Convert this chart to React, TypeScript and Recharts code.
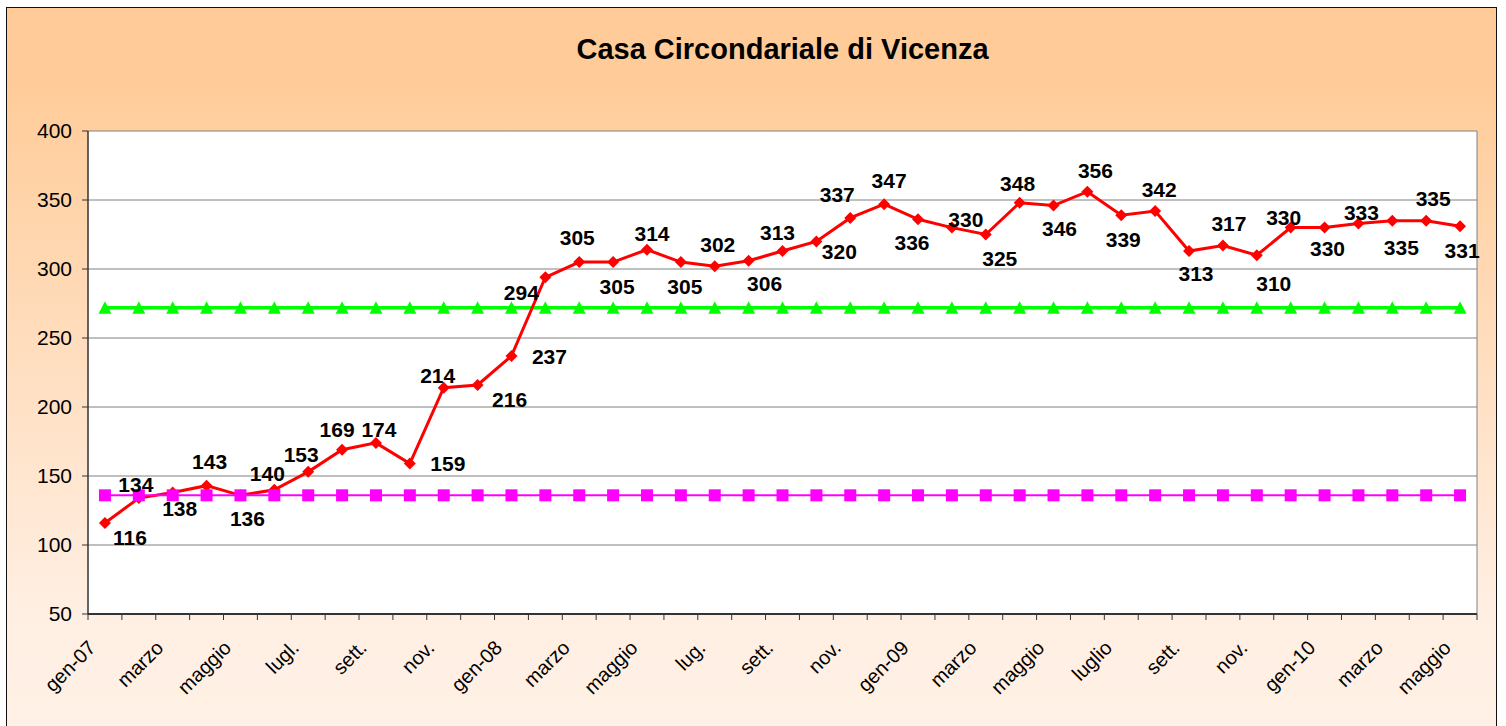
import React from 'react';
import { LineChart, Line, XAxis, YAxis, CartesianGrid, LabelList } from 'recharts';

// mesi (solo quelli pari vengono mostrati sull'asse)
const MESI = [
  'gen-07', 'feb.', 'marzo', 'apr.', 'maggio', 'giu.', 'lugl.', 'ago.', 'sett.', 'ott.', 'nov.', 'dic.',
  'gen-08', 'feb.', 'marzo', 'apr.', 'maggio', 'giu.', 'lug.', 'ago.', 'sett.', 'ott.', 'nov.', 'dic.',
  'gen-09', 'feb.', 'marzo', 'apr.', 'maggio', 'giu.', 'luglio', 'ago.', 'sett.', 'ott.', 'nov.', 'dic.',
  'gen-10', 'feb.', 'marzo', 'apr.', 'maggio'
];

const PRESENZE = [
  116, 134, 138, 143, 136, 140, 153, 169, 174, 159, 214, 216,
  237, 294, 305, 305, 314, 305, 302, 306, 313, 320, 337, 347,
  336, 330, 325, 348, 346, 356, 339, 342, 313, 317, 310, 330,
  330, 333, 335, 335, 331
];

const CAPIENZA_TOLLERABILE = [
  272, 272, 272, 272, 272, 272, 272, 272, 272, 272, 272, 272,
  272, 272, 272, 272, 272, 272, 272, 272, 272, 272, 272, 272,
  272, 272, 272, 272, 272, 272, 272, 272, 272, 272, 272, 272,
  272, 272, 272, 272, 272
];

const CAPIENZA_REGOLAMENTARE = [
  136, 136, 136, 136, 136, 136, 136, 136, 136, 136, 136, 136,
  136, 136, 136, 136, 136, 136, 136, 136, 136, 136, 136, 136,
  136, 136, 136, 136, 136, 136, 136, 136, 136, 136, 136, 136,
  136, 136, 136, 136, 136
];

const Y_TICKS = [50, 100, 150, 200, 250, 300, 350, 400];

// spostamento delle etichette rispetto al punto [dx, dy]
const LABEL_OFFSETS = [
  [25, 15], [-3, -14], [7, 16], [3, -24], [7, 23], [-7, -16], [-7, -17], [-5, -20],
  [3, -13], [38, 0], [-6, -12], [32, 15], [38, 0], [-24, 15], [-2, -25], [4, 24],
  [5, -16], [4, 24], [3, -22], [16, 23], [-5, -19], [23, 10], [-13, -24], [5, -24],
  [-6, 23], [14, -8], [14, 24], [-2, -19], [6, 23], [8, -21], [2, 24], [4, -22],
  [7, 22], [6, -22], [17, 28], [-7, -10], [3, 21], [3, -11], [9, 27], [7, -22],
  [2, 24]
];

const data = MESI.map((mese, i) => ({
  mese,
  presenze: PRESENZE[i],
  tollerabile: CAPIENZA_TOLLERABILE[i],
  regolamentare: CAPIENZA_REGOLAMENTARE[i]
}));

const W = 1506;
const H = 726;
const PLOT_LEFT = 88;
const PLOT_RIGHT = 1477;
const PLOT_TOP = 131;
const PLOT_BOTTOM = 614;
const BAND = (PLOT_RIGHT - PLOT_LEFT) / MESI.length;
const FONT = '"Liberation Sans", Arial, sans-serif';

const XTick = (props: any) => {
  const { x, y, payload, index } = props;
  const i = index ?? payload.index;
  const tx = x - 8;
  const ty = y + 35;
  return (
    <g>
      <line x1={x - BAND / 2} x2={x - BAND / 2} y1={y} y2={y + 6} stroke="#333" />
      {i === MESI.length - 1 && (
        <line x1={x + BAND / 2} x2={x + BAND / 2} y1={y} y2={y + 6} stroke="#333" />
      )}
      {i % 2 === 0 && (
        <text
          x={tx}
          y={ty}
          transform={`rotate(-45, ${tx}, ${ty})`}
          textAnchor="end"
          fontSize={20}
          fontFamily={FONT}
          fill="#000"
        >
          {payload.value}
        </text>
      )}
    </g>
  );
};

const Diamond = (props: any) => {
  const { cx, cy, index } = props;
  const r = 6;
  return (
    <polygon
      key={`d-${index}`}
      points={`${cx},${cy - r} ${cx + r},${cy} ${cx},${cy + r} ${cx - r},${cy}`}
      fill="#ff0000"
    />
  );
};

const Triangle = (props: any) => {
  const { cx, cy, index } = props;
  return (
    <polygon
      key={`t-${index}`}
      points={`${cx},${cy - 6.5} ${cx + 6.5},${cy + 6} ${cx - 6.5},${cy + 6}`}
      fill="#00ff00"
    />
  );
};

const Square = (props: any) => {
  const { cx, cy, index } = props;
  return <rect key={`s-${index}`} x={cx - 6} y={cy - 6} width={12} height={12} fill="#ff00ff" />;
};

const ValueLabel = (props: any) => {
  const { x, y, value, index } = props;
  const [dx, dy] = LABEL_OFFSETS[index] || [0, -18];
  return (
    <text
      x={x + dx}
      y={y + dy}
      dy="0.36em"
      textAnchor="middle"
      fontSize={21}
      fontWeight="bold"
      fontFamily={FONT}
      fill="#000"
    >
      {value}
    </text>
  );
};

export default function App() {
  return (
    <div style={{ position: 'absolute', left: 0, top: 0, width: W, height: H, overflow: 'hidden', background: '#fff' }}>
      {/* cornice con sfumatura */}
      <div
        style={{
          position: 'absolute',
          left: 6,
          top: 7,
          width: 1491,
          height: 760,
          boxSizing: 'border-box',
          border: '1px solid #111',
          background: 'linear-gradient(to bottom, #ffcc99 0%, #ffcc99 10%, #ffefe3 80%, #fff1e6 100%)'
        }}
      />
      <div
        style={{
          position: 'absolute',
          left: PLOT_LEFT,
          width: PLOT_RIGHT - PLOT_LEFT,
          top: 33,
          textAlign: 'center',
          fontFamily: FONT,
          fontWeight: 'bold',
          fontSize: 29,
          lineHeight: '32px',
          color: '#000'
        }}
      >
        Casa Circondariale di Vicenza
      </div>
      <div style={{ position: 'absolute', left: 0, top: 0 }}>
        <LineChart
          width={W}
          height={H}
          data={data}
          margin={{ top: PLOT_TOP, right: W - PLOT_RIGHT, bottom: 0, left: 0 }}
        >
          <CartesianGrid fill="#fff" stroke="#808080" verticalPoints={[PLOT_RIGHT]} />
          <XAxis
            dataKey="mese"
            interval={0}
            padding={{ left: BAND / 2, right: BAND / 2 }}
            height={H - PLOT_BOTTOM}
            tickLine={false}
            tickSize={0}
            tickMargin={0}
            tick={<XTick />}
            axisLine={{ stroke: '#333', strokeWidth: 2 }}
          />
          <YAxis
            domain={[50, 400]}
            ticks={Y_TICKS}
            width={PLOT_LEFT}
            tickSize={6}
            tickMargin={10}
            axisLine={{ stroke: '#333', strokeWidth: 1.5 }}
            tickLine={{ stroke: '#333' }}
            tick={{ fontSize: 21, fill: '#000', fontFamily: FONT }}
            allowDataOverflow
          />
          <Line
            dataKey="tollerabile"
            stroke="#00ff00"
            strokeWidth={3.5}
            dot={<Triangle />}
            activeDot={false}
            isAnimationActive={false}
          />
          <Line
            dataKey="presenze"
            stroke="#ff0000"
            strokeWidth={3}
            dot={<Diamond />}
            activeDot={false}
            isAnimationActive={false}
          />
          <Line
            dataKey="regolamentare"
            stroke="#ff00ff"
            strokeWidth={2}
            dot={<Square />}
            activeDot={false}
            isAnimationActive={false}
          />
          {/* etichette sopra tutte le serie */}
          <Line
            dataKey="presenze"
            stroke="none"
            dot={false}
            activeDot={false}
            legendType="none"
            isAnimationActive={false}
          >
            <LabelList dataKey="presenze" content={<ValueLabel />} />
          </Line>
        </LineChart>
      </div>
    </div>
  );
}
